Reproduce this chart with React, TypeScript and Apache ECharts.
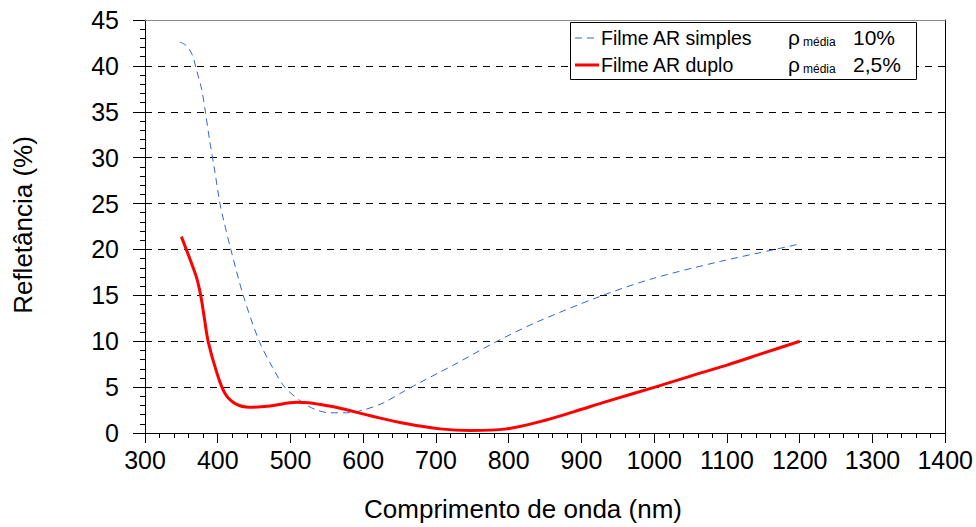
import React, { useEffect, useRef } from "react";
import * as echarts from "echarts";

const FONT = "'Liberation Sans', Arial, sans-serif";

const xAxisTitle = "Comprimento de onda (nm)";
const yAxisTitle = "Refletância (%)";
const seriesNames = ["Filme AR simples", "Filme AR duplo"];
const averageSymbol = "ρ";
const averageWord = "média";
const averageValues = ["10%", "2,5%"];

const simpleWavelength = [
  348, 357, 365, 371, 378, 383, 389, 395, 403, 408, 418, 435, 457, 475, 492,
  517, 536, 555, 577, 600, 628, 655, 678, 724, 784, 839, 926, 999, 1091, 1166, 1200,
];
const simpleReflectance = [
  42.6, 42.2, 41.2, 39.5, 37.4, 35.0, 31.8, 29.0, 25.0, 23.2, 20.0, 15.0, 10.0, 7.2, 5.0,
  3.3, 2.5, 2.2, 2.2, 2.5, 3.3, 4.5, 5.5, 7.4, 10.0, 12.1, 14.9, 16.85, 18.7, 20.0, 20.6,
];

const duploWavelength = [
  350, 362, 371, 377, 382, 387, 399, 410, 424, 444, 472, 509, 525, 541, 568, 614,
  660, 706, 747, 797, 843, 889, 935, 1001, 1050, 1100, 1150, 1200,
];
const duploReflectance = [
  21.4, 18.9, 16.9, 14.8, 12.3, 9.9, 6.5, 4.3, 3.2, 2.8, 2.95, 3.35, 3.3, 3.1, 2.7, 1.8,
  1.0, 0.45, 0.28, 0.45, 1.24, 2.3, 3.45, 5.0, 6.2, 7.4, 8.7, 10.0,
];

const zip = (xs: number[], ys: number[]) => xs.map((x, i) => [x, ys[i]]);

export default function App() {
  const ref = useRef<HTMLDivElement>(null);
  useEffect(() => {
    if (!ref.current) return;
    const chart = echarts.init(ref.current, null, { renderer: "svg" });
    const black = "#000";
    const LZ = 100;
    chart.setOption({
      animation: false,
      backgroundColor: "#fff",
      textStyle: { fontFamily: FONT },
      grid: { left: 145, right: 30, top: 20, bottom: 94 },
      xAxis: [
        {
          type: "value",
          min: 300,
          max: 1400,
          interval: 100,
          axisLine: { show: true, onZero: false, lineStyle: { color: black, width: 1 } },
          axisTick: { show: true, length: 10, lineStyle: { color: black } },
          minorTick: { show: true, splitNumber: 5, length: 5, lineStyle: { color: black } },
          axisLabel: {
            fontSize: 25,
            color: black,
            margin: 14,
            fontFamily: FONT,
            formatter: (v: number) => String(v),
          },
          splitLine: { show: false },
        },
        {
          type: "value",
          position: "top",
          min: 300,
          max: 1400,
          axisLine: { show: true, onZero: false, lineStyle: { color: "#8a8a8a", width: 1 } },
          axisTick: { show: false },
          axisLabel: { show: false },
          splitLine: { show: false },
        },
      ],
      yAxis: [
        {
          type: "value",
          min: 0,
          max: 45,
          interval: 5,
          axisLine: { show: true, onZero: false, lineStyle: { color: black, width: 1 } },
          axisTick: { show: true, length: 12, lineStyle: { color: black } },
          minorTick: { show: true, splitNumber: 5, length: 5, lineStyle: { color: black } },
          axisLabel: {
            fontSize: 25,
            color: black,
            margin: 26,
            fontFamily: FONT,
            formatter: (v: number) => String(v),
          },
          splitLine: { show: true, lineStyle: { color: black, width: 1, type: [7, 6] } },
        },
        {
          type: "value",
          position: "right",
          min: 0,
          max: 45,
          axisLine: { show: true, onZero: false, lineStyle: { color: black, width: 1 } },
          axisTick: { show: false },
          axisLabel: { show: false },
          splitLine: { show: false },
        },
      ],
      series: [
        {
          name: seriesNames[0],
          type: "line",
          data: zip(simpleWavelength, simpleReflectance),
          showSymbol: false,
          smooth: 0.3,
          lineStyle: { color: "#3366cc", width: 1, type: [7, 5] },
          z: 3,
        },
        {
          name: seriesNames[1],
          type: "line",
          data: zip(duploWavelength, duploReflectance),
          showSymbol: false,
          smooth: 0.35,
          lineStyle: { color: "#ff0000", width: 3 },
          z: 4,
        },
      ],
      graphic: [
        {
          type: "text",
          x: 523,
          y: 509,
          style: {
            text: xAxisTitle,
            fontSize: 26,
            fontFamily: FONT,
            fill: black,
            textAlign: "center",
            textVerticalAlign: "middle",
          },
        },
        {
          type: "text",
          x: 23,
          y: 225,
          rotation: Math.PI / 2,
          style: {
            text: yAxisTitle,
            fontSize: 26,
            fontFamily: FONT,
            fill: black,
            textAlign: "center",
            textVerticalAlign: "middle",
          },
        },
        {
          type: "rect",
          z: LZ,
          shape: { x: 570.5, y: 22.5, width: 346, height: 57 },
          style: { fill: "#fff", stroke: black, lineWidth: 1 },
        },
        {
          type: "line",
          z: LZ + 1,
          shape: { x1: 575, y1: 38, x2: 599, y2: 38 },
          style: { stroke: "#3366cc", lineWidth: 1, lineDash: [7, 5] },
        },
        {
          type: "line",
          z: LZ + 1,
          shape: { x1: 575, y1: 65, x2: 599, y2: 65 },
          style: { stroke: "#ff0000", lineWidth: 3 },
        },
        ...seriesNames.map((name, i) => ({
          type: "text",
          z: LZ + 1,
          x: 601,
          y: 37.5 + i * 27,
          style: {
            text: name,
            fontSize: 19.5,
            fontFamily: FONT,
            fill: black,
            textVerticalAlign: "middle",
          },
        })),
        ...averageValues.flatMap((val, i) => [
          {
            type: "text",
            z: LZ + 1,
            x: 788,
            y: 37 + i * 27,
            style: {
              text: averageSymbol,
              fontSize: 21,
              fontFamily: FONT,
              fill: black,
              textVerticalAlign: "middle",
            },
          },
          {
            type: "text",
            z: LZ + 1,
            x: 803,
            y: 42 + i * 27,
            style: {
              text: averageWord,
              fontSize: 12,
              fontFamily: FONT,
              fill: black,
              textVerticalAlign: "middle",
            },
          },
          {
            type: "text",
            z: LZ + 1,
            x: 853,
            y: 37 + i * 27,
            style: {
              text: val,
              fontSize: 21,
              fontFamily: FONT,
              fill: black,
              textVerticalAlign: "middle",
            },
          },
        ]),
      ],
    });
    return () => chart.dispose();
  }, []);
  return (
    <div
      ref={ref}
      style={{ position: "fixed", left: 0, top: 0, width: 976, height: 527, background: "#fff" }}
    />
  );
}
